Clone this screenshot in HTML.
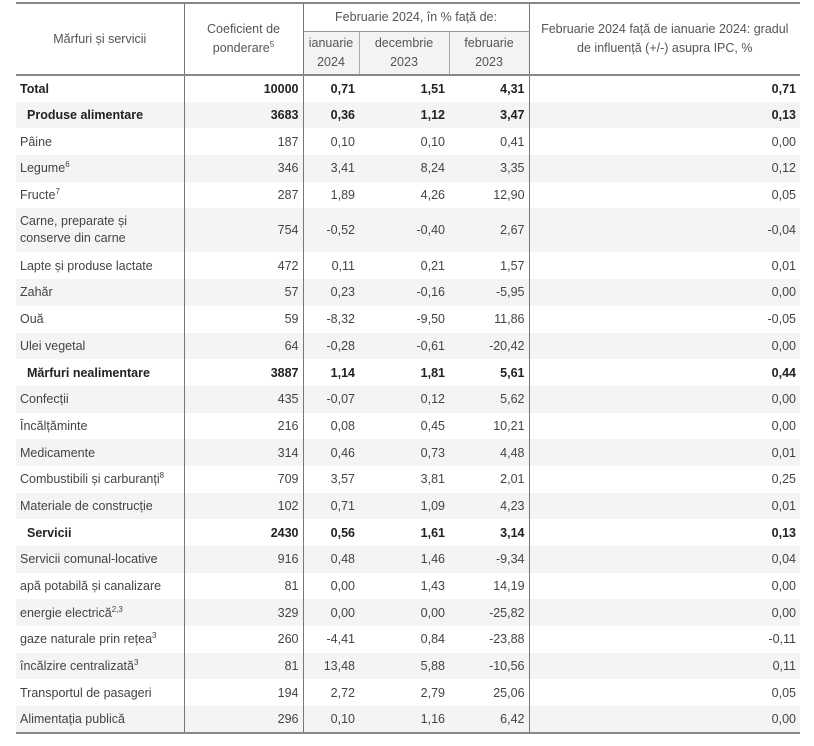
<!DOCTYPE html>
<html><head><meta charset="utf-8"><style>
body{margin:0;background:#fff;width:814px;height:746px;overflow:hidden;font-family:"Liberation Sans",sans-serif;color:#444;font-size:12.5px}
table{position:absolute;left:16px;top:2px;width:784px;border-collapse:collapse;table-layout:fixed}
td,th{padding:0 4px;white-space:nowrap}
th{font-weight:normal;color:#555;text-align:center;line-height:19px}
thead tr:first-child th{border-top:2px solid #888}
thead tr:last-child th,th.rb{border-bottom:2px solid #888}
.v{border-right:1.5px solid #777}
.sub{background:#f3f3f3}
.sb{border-bottom:1px solid #999}
.sr{border-right:1px solid #aaa}
tbody tr{height:26.7px}
tbody tr:nth-child(even){background:#f4f4f4}
tbody tr:last-child{border-bottom:2px solid #888}
td{text-align:right}
td:first-child{text-align:left;color:#444}
tbody td:nth-child(1),tbody td:nth-child(2){border-right:1.5px solid #777}
tbody td:nth-child(5){border-right:1.5px solid #777}
tr.b td{font-weight:bold;color:#222}
tr.b td.i{padding-left:11px}
sup{font-size:8px;vertical-align:5px;line-height:0}
</style></head><body>
<table>
<colgroup><col style="width:168px"><col style="width:119px"><col style="width:56px"><col style="width:90px"><col style="width:80px"><col style="width:271px"></colgroup>
<thead>
<tr style="height:28px"><th rowspan="2" class="v rb">Mărfuri și servicii</th><th rowspan="2" class="v rb">Coeficient de<br>ponderare<sup>5</sup></th><th colspan="3" class="v sb">Februarie 2024, în % față de:</th><th rowspan="2" class="rb">Februarie 2024 față de ianuarie 2024: gradul<br>de influență (+/-) asupra IPC, %</th></tr>
<tr style="height:44px"><th class="sub sr">ianuarie<br>2024</th><th class="sub sr">decembrie<br>2023</th><th class="sub v">februarie<br>2023</th></tr>
</thead>
<tbody>
<tr class="b"><td>Total</td><td>10000</td><td>0,71</td><td>1,51</td><td>4,31</td><td>0,71</td></tr>
<tr class="b"><td class="i">Produse alimentare</td><td>3683</td><td>0,36</td><td>1,12</td><td>3,47</td><td>0,13</td></tr>
<tr><td>Pâine</td><td>187</td><td>0,10</td><td>0,10</td><td>0,41</td><td>0,00</td></tr>
<tr><td>Legume<sup>6</sup></td><td>346</td><td>3,41</td><td>8,24</td><td>3,35</td><td>0,12</td></tr>
<tr><td>Fructe<sup>7</sup></td><td>287</td><td>1,89</td><td>4,26</td><td>12,90</td><td>0,05</td></tr>
<tr style="height:44px"><td style="line-height:17px">Carne, preparate și<br>conserve din carne</td><td>754</td><td>-0,52</td><td>-0,40</td><td>2,67</td><td>-0,04</td></tr>
<tr><td>Lapte și produse lactate</td><td>472</td><td>0,11</td><td>0,21</td><td>1,57</td><td>0,01</td></tr>
<tr><td>Zahăr</td><td>57</td><td>0,23</td><td>-0,16</td><td>-5,95</td><td>0,00</td></tr>
<tr><td>Ouă</td><td>59</td><td>-8,32</td><td>-9,50</td><td>11,86</td><td>-0,05</td></tr>
<tr><td>Ulei vegetal</td><td>64</td><td>-0,28</td><td>-0,61</td><td>-20,42</td><td>0,00</td></tr>
<tr class="b"><td class="i">Mărfuri nealimentare</td><td>3887</td><td>1,14</td><td>1,81</td><td>5,61</td><td>0,44</td></tr>
<tr><td>Confecții</td><td>435</td><td>-0,07</td><td>0,12</td><td>5,62</td><td>0,00</td></tr>
<tr><td>Încălțăminte</td><td>216</td><td>0,08</td><td>0,45</td><td>10,21</td><td>0,00</td></tr>
<tr><td>Medicamente</td><td>314</td><td>0,46</td><td>0,73</td><td>4,48</td><td>0,01</td></tr>
<tr><td>Combustibili și carburanți<sup>8</sup></td><td>709</td><td>3,57</td><td>3,81</td><td>2,01</td><td>0,25</td></tr>
<tr><td>Materiale de construcție</td><td>102</td><td>0,71</td><td>1,09</td><td>4,23</td><td>0,01</td></tr>
<tr class="b"><td class="i">Servicii</td><td>2430</td><td>0,56</td><td>1,61</td><td>3,14</td><td>0,13</td></tr>
<tr><td>Servicii comunal-locative</td><td>916</td><td>0,48</td><td>1,46</td><td>-9,34</td><td>0,04</td></tr>
<tr><td>apă potabilă și canalizare</td><td>81</td><td>0,00</td><td>1,43</td><td>14,19</td><td>0,00</td></tr>
<tr><td>energie electrică<sup>2,3</sup></td><td>329</td><td>0,00</td><td>0,00</td><td>-25,82</td><td>0,00</td></tr>
<tr><td>gaze naturale prin rețea<sup>3</sup></td><td>260</td><td>-4,41</td><td>0,84</td><td>-23,88</td><td>-0,11</td></tr>
<tr><td>încălzire centralizată<sup>3</sup></td><td>81</td><td>13,48</td><td>5,88</td><td>-10,56</td><td>0,11</td></tr>
<tr><td>Transportul de pasageri</td><td>194</td><td>2,72</td><td>2,79</td><td>25,06</td><td>0,05</td></tr>
<tr><td>Alimentația publică</td><td>296</td><td>0,10</td><td>1,16</td><td>6,42</td><td>0,00</td></tr>
</tbody>
</table>
</body></html>
